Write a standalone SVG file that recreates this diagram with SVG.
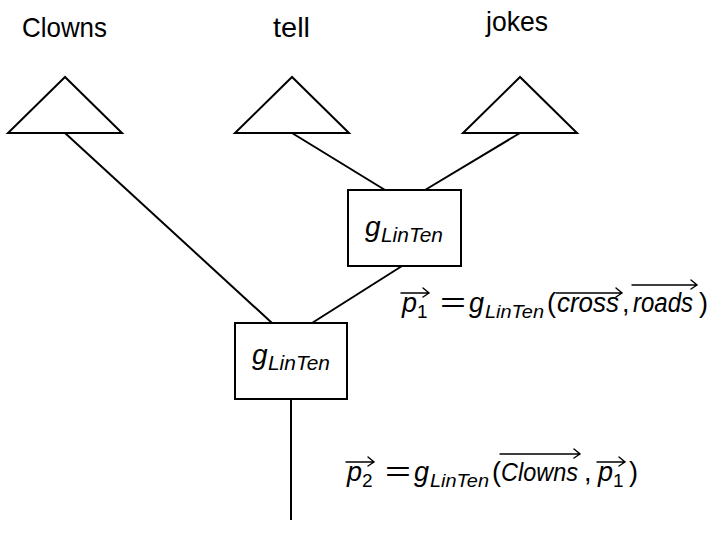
<svg xmlns="http://www.w3.org/2000/svg" width="713" height="548" viewBox="0 0 713 548">
  <style>
    .edge { stroke: #000; stroke-width: 2; fill: none; }
    .shape { stroke: #000; stroke-width: 2; fill: #fff; }
    .word { font-family: "Liberation Sans", Arial, sans-serif; font-size: 28px; fill: #000; }
    .math { font-family: "Liberation Sans", Arial, sans-serif; font-size: 27px; font-style: italic; fill: #000; }
    .sub { font-family: "Liberation Sans", Arial, sans-serif; font-size: 19px; font-style: italic; fill: #000; }
    .num { font-family: "Liberation Sans", Arial, sans-serif; font-size: 19px; fill: #000; }
    .rm { font-family: "Liberation Sans", Arial, sans-serif; font-size: 27px; fill: #000; }
    .vec { stroke: #000; stroke-width: 1.4; fill: none; stroke-linecap: round; }
  </style>

  <!-- leaf words -->
  <g id="leaf-clowns">
    <text class="word" x="22" y="37" textLength="85" lengthAdjust="spacingAndGlyphs">Clowns</text>
    <polygon class="shape" points="65,77 8,133 122,133"/>
  </g>
  <g id="leaf-tell">
    <text class="word" x="273" y="37" textLength="37" lengthAdjust="spacingAndGlyphs">tell</text>
    <polygon class="shape" points="292,77 235,133 349,133"/>
  </g>
  <g id="leaf-jokes">
    <text class="word" x="486" y="31" textLength="62" lengthAdjust="spacingAndGlyphs">jokes</text>
    <polygon class="shape" points="520,77 463,133 577,133"/>
  </g>

  <!-- tree edges -->
  <g id="connectors">
    <line class="edge" x1="65" y1="133" x2="272" y2="323"/>
    <line class="edge" x1="292" y1="133" x2="385" y2="190"/>
    <line class="edge" x1="520" y1="133" x2="425" y2="190"/>
    <line class="edge" x1="402" y1="266" x2="312" y2="323"/>
    <line class="edge" x1="291" y1="399" x2="291" y2="520"/>
  </g>

  <!-- composition nodes -->
  <g id="node-upper">
    <rect class="shape" x="348" y="190" width="113" height="76"/>
    <text class="math" x="365" y="236" style="font-size:28px">g</text>
    <text class="sub" x="381" y="242" textLength="62" lengthAdjust="spacingAndGlyphs" style="font-size:20px">LinTen</text>
  </g>
  <g id="node-lower">
    <rect class="shape" x="235" y="323" width="112" height="76"/>
    <text class="math" x="252" y="364" style="font-size:28px">g</text>
    <text class="sub" x="268" y="370" textLength="62" lengthAdjust="spacingAndGlyphs" style="font-size:20px">LinTen</text>
  </g>

  <!-- equation for p1 -->
  <g id="label-p1">
    <text class="math" x="402" y="312">p</text>
    <text class="num" x="417" y="318">1</text>
    <path class="vec" d="M401,293 H429 M423,288 L429,293 L423,297"/>
    <text class="rm" x="440" y="312" textLength="26" lengthAdjust="spacingAndGlyphs">=</text>
    <text class="math" x="469" y="312">g</text>
    <text class="sub" x="485" y="318" textLength="59" lengthAdjust="spacingAndGlyphs">LinTen</text>
    <text class="rm" x="547" y="312">(</text>
    <text class="math" x="557" y="312" textLength="62" lengthAdjust="spacingAndGlyphs">cross</text>
    <path class="vec" d="M556,293 H622 M616,288 L622,293 L616,297"/>
    <text class="rm" x="622" y="312">,</text>
    <text class="math" x="633" y="312" textLength="60" lengthAdjust="spacingAndGlyphs">roads</text>
    <path class="vec" d="M632,285 H697 M691,280 L697,285 L691,289"/>
    <text class="rm" x="699" y="312">)</text>
  </g>

  <!-- equation for p2 -->
  <g id="label-p2">
    <text class="math" x="347" y="481">p</text>
    <text class="num" x="362" y="487">2</text>
    <path class="vec" d="M346,462 H374 M368,457 L374,462 L368,466"/>
    <text class="rm" x="385" y="481" textLength="26" lengthAdjust="spacingAndGlyphs">=</text>
    <text class="math" x="414" y="481">g</text>
    <text class="sub" x="430" y="487" textLength="59" lengthAdjust="spacingAndGlyphs">LinTen</text>
    <text class="rm" x="492" y="481">(</text>
    <text class="math" x="501" y="481" textLength="77" lengthAdjust="spacingAndGlyphs" style="font-size:25px">Clowns</text>
    <path class="vec" d="M500,454 H580 M574,449 L580,454 L574,458"/>
    <text class="rm" x="584" y="481">,</text>
    <text class="math" x="598" y="481">p</text>
    <text class="num" x="613" y="487">1</text>
    <path class="vec" d="M597,462 H625 M619,457 L625,462 L619,466"/>
    <text class="rm" x="629" y="481">)</text>
  </g>
</svg>
